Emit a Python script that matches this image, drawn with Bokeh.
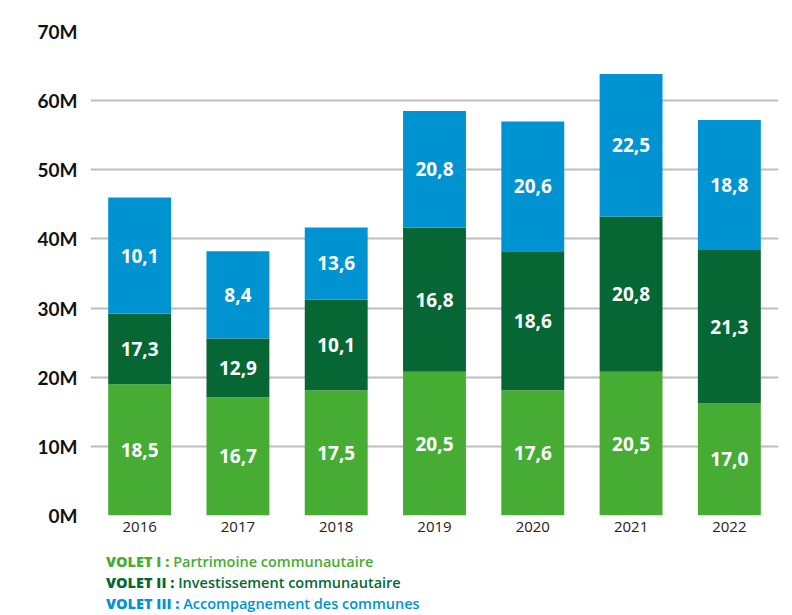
from bokeh.plotting import figure
from bokeh.models import ColumnDataSource, FixedTicker, Div
from bokeh.layouts import column
from bokeh.core.properties import value
from bokeh.embed import file_html
from bokeh.resources import INLINE

years = ["2016", "2017", "2018", "2019", "2020", "2021", "2022"]
# segment heights as drawn (millions)
volet1 = [19.0, 17.1, 18.1, 20.8, 18.1, 20.8, 16.2]
volet2 = [10.2, 8.5, 13.15, 20.8, 20.1, 22.45, 22.2]
volet3 = [16.8, 12.6, 10.4, 16.9, 18.8, 20.6, 18.8]
# printed labels
lab1 = ["18,5", "16,7", "17,5", "20,5", "17,6", "20,5", "17,0"]
lab2 = ["17,3", "12,9", "10,1", "16,8", "18,6", "20,8", "21,3"]
lab3 = ["10,1", "8,4", "13,6", "20,8", "20,6", "22,5", "18,8"]
y_ticks = [0, 10, 20, 30, 40, 50, 60, 70]
y_tick_labels = ["0M", "10M", "20M", "30M", "40M", "50M", "60M", "70M"]
legend_keys = ["VOLET I :", "VOLET II :", "VOLET III :"]
legend_names = ["Partrimoine communautaire",
                "Investissement communautaire",
                "Accompagnement des communes"]

C1, C2, C3 = "#46AC34", "#066735", "#0093D1"
colors = [C1, C2, C3]

p = figure(x_range=years, y_range=(0, 70), width=792, height=545,
           output_backend="svg", toolbar_location=None,
           min_border_left=90, min_border_right=14, min_border_top=31,
           min_border_bottom=30)
p.outline_line_color = None

src = ColumnDataSource(dict(year=years, v1=volet1, v2=volet2, v3=volet3))
p.vbar_stack(["v1", "v2", "v3"], x="year", width=0.64, color=colors,
             line_color=None, source=src)

# label positions at segment centers
c1, c2, c3 = [], [], []
for a, b, c in zip(volet1, volet2, volet3):
    c1.append(a / 2)
    c2.append(a + b / 2)
    c3.append(a + b + c / 2)
lsrc = ColumnDataSource(dict(
    x=years * 3, y=c1 + c2 + c3, t=lab1 + lab2 + lab3))
p.text(x="x", y="y", text="t", source=lsrc, text_color="white",
       text_font=value("Open Sans"), text_font_style="bold",
       text_font_size="19px", text_align="center", text_baseline="middle")

p.ygrid.grid_line_color = "#BDBDBD"
p.ygrid.grid_line_width = 2
p.xgrid.grid_line_color = None
p.yaxis.ticker = FixedTicker(ticks=y_ticks)
p.yaxis.major_label_overrides = {t: l for t, l in zip(y_ticks, y_tick_labels)}
p.yaxis.axis_line_color = None
p.yaxis.major_tick_line_color = None
p.yaxis.minor_tick_line_color = None
p.yaxis.major_tick_out = 0
p.yaxis.major_label_standoff = 13
p.yaxis.major_label_text_font = "Lato"
p.yaxis.major_label_text_font_style = "bold"
p.yaxis.major_label_text_font_size = "19px"
p.yaxis.major_label_text_color = "#111111"

p.xaxis.axis_line_color = None
p.xaxis.major_tick_line_color = None
p.xaxis.major_tick_out = 0
p.xaxis.major_label_standoff = 6
p.xaxis.major_label_text_font = "Open Sans"
p.xaxis.major_label_text_font_size = "15px"
p.xaxis.major_label_text_color = "#222222"

lines = []
for k, n, col in zip(legend_keys, legend_names, colors):
    lines.append(
        f'<div style="color:{col};white-space:nowrap;">'
        f'<span style="font-weight:800;">{k}</span> '
        f'<span style="font-weight:600;">{n}</span></div>')
legend = Div(text="".join(lines), width=792, height=70, margin=(0, 0, 0, 0),
             styles={"font-family": "Open Sans", "font-size": "14.5px",
                     "line-height": "21px", "padding-top": "6px",
                     "padding-left": "106px", "box-sizing": "border-box"})

layout = column(p, legend, spacing=0)
open("out.html", "w").write(file_html(layout, INLINE))
